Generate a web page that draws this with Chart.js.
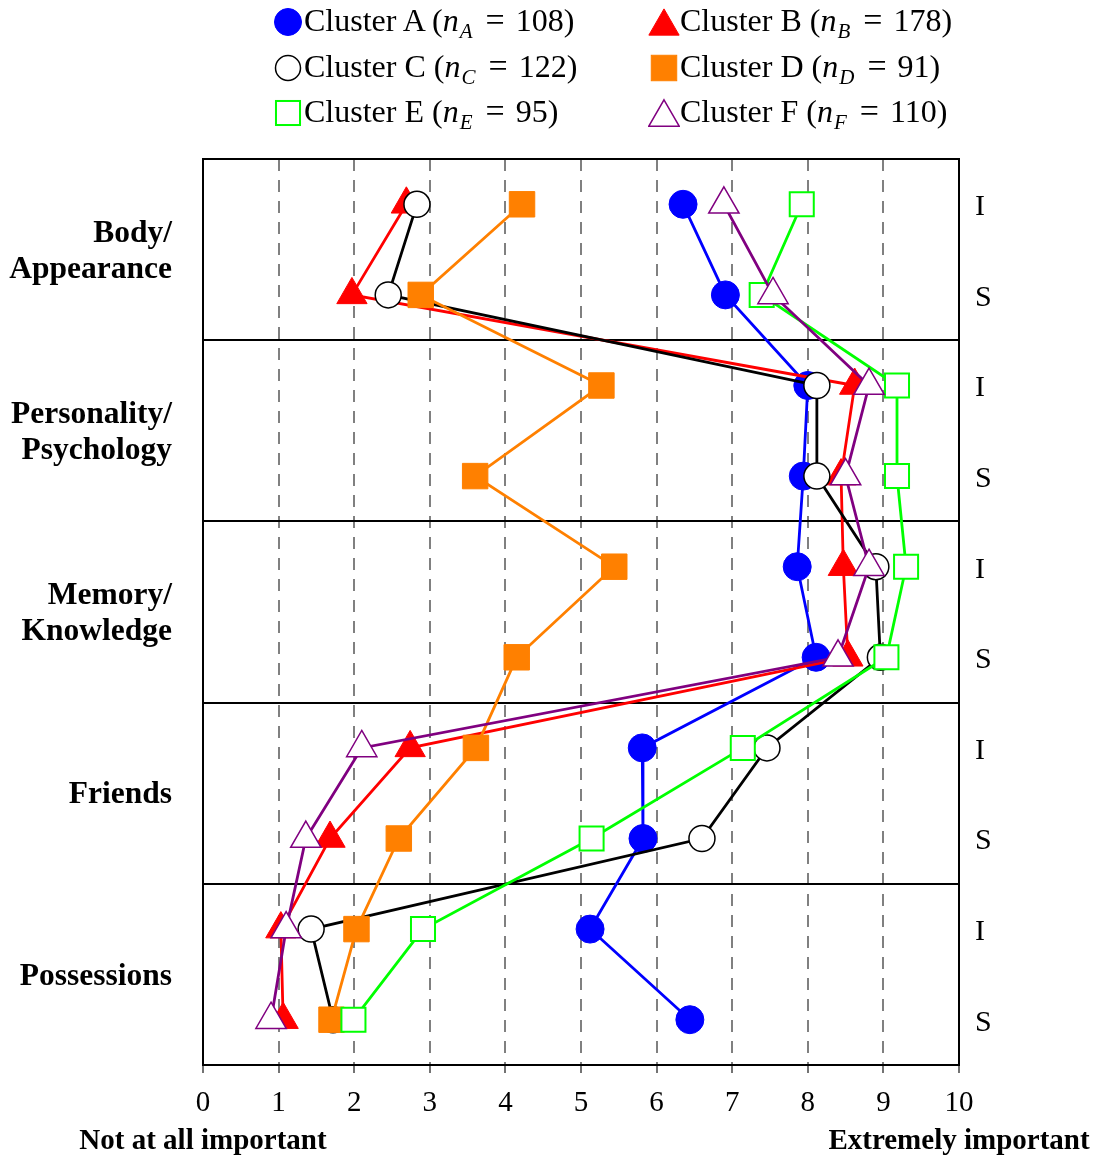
<!DOCTYPE html>
<html>
<head>
<meta charset="utf-8">
<script src="https://cdn.jsdelivr.net/npm/chart.js@4.4.0/dist/chart.umd.min.js"></script>
<style>
  body { margin: 0; background: #fff; }
  #wrap { position: relative; width: 1098px; height: 1160px; }
  #chart { position: absolute; left: 0; top: 0; }
  .leg { position: absolute; display: flex; align-items: center; height: 40px;
         font-family: "Liberation Serif", serif; font-size: 32px; color: #000; white-space: nowrap; }
  .leg svg { display: block; }
  .leg sub { font-size: 21px; vertical-align: -7px; margin-left: 1px; }
  .leg .eq { margin: 0 11px 0 13px; font-size: 34px; }
</style>
</head>
<body>
<div id="wrap">
  <canvas id="chart" width="1098" height="1160"></canvas>
  <div id="legend"></div>
</div>
<script>
// row labels (top to bottom) and group names
const rows = ['I', 'S', 'I', 'S', 'I', 'S', 'I', 'S', 'I', 'S'];
const groups = [['Body/', 'Appearance'], ['Personality/', 'Psychology'], ['Memory/', 'Knowledge'], 'Friends', 'Possessions'];
const xTicks = [0, 1, 2, 3, 4, 5, 6, 7, 8, 9, 10];

// mean importance per row, one array per cluster
const clusterA = [6.35, 6.91, 8.00, 7.94, 7.86, 8.11, 5.81, 5.82, 5.12, 6.44];
const clusterB = [2.69, 1.97, 8.62, 8.44, 8.47, 8.53, 2.74, 1.68, 1.03, 1.06];
const clusterC = [2.83, 2.45, 8.12, 8.12, 8.90, 8.96, 7.46, 6.60, 1.43, 1.72];
const clusterD = [4.22, 2.88, 5.27, 3.60, 5.44, 4.15, 3.61, 2.59, 2.03, 1.70];
const clusterE = [7.92, 7.39, 9.18, 9.18, 9.30, 9.04, 7.14, 5.14, 2.91, 1.99];
const clusterF = [6.89, 7.54, 8.81, 8.50, 8.81, 8.40, 2.10, 1.36, 1.10, 0.90];

const clusterNames = ['A', 'B', 'C', 'D', 'E', 'F'];
const clusterSizes = [108, 178, 122, 91, 95, 110];

const FONT = '"Liberation Serif", serif';

function toPoints(vals) {
    return vals.map((v, i) => ({ x: v, y: i }));
}

// style per cluster
const styles = [
    { line: '#0000ff', fill: '#0000ff', border: '#0000ff', shape: 'circle', r: 14, bw: 1 },
    { line: '#ff0000', fill: '#ff0000', border: '#ff0000', shape: 'triangle', r: 17.5, bw: 1 },
    { line: '#000000', fill: '#ffffff', border: '#000000', shape: 'circle', r: 13, bw: 1.5 },
    { line: '#ff8000', fill: '#ff8000', border: '#ff8000', shape: 'rect', r: 18, bw: 1 },
    { line: '#00ff00', fill: '#ffffff', border: '#00ff00', shape: 'rect', r: 17, bw: 2 },
    { line: '#800080', fill: '#ffffff', border: '#800080', shape: 'triangle', r: 17.5, bw: 1.5 }
];
const allData = [clusterA, clusterB, clusterC, clusterD, clusterE, clusterF];

const datasets = allData.map((vals, k) => ({
    label: 'Cluster ' + clusterNames[k],
    data: toPoints(vals),
    borderColor: styles[k].line,
    borderWidth: 2.8,
    pointStyle: styles[k].shape,
    pointRadius: styles[k].r,
    pointHoverRadius: styles[k].r,
    pointBackgroundColor: styles[k].fill,
    pointBorderColor: styles[k].border,
    pointBorderWidth: styles[k].bw,
    tension: 0,
    clip: false,
    order: 6 - k   // later clusters on top
}));

// separators, frame and the two end labels
const framePlugin = {
    id: 'frame',
    beforeDatasetsDraw(chart) {
        const ctx = chart.ctx;
        const a = chart.chartArea;
        const y = chart.scales.y;
        ctx.save();
        ctx.strokeStyle = '#000';
        ctx.lineWidth = 2;
        [1.5, 3.5, 5.5, 7.5].forEach(v => {
            const py = Math.round(y.getPixelForValue(v));
            ctx.beginPath();
            ctx.moveTo(a.left, py);
            ctx.lineTo(a.right, py);
            ctx.stroke();
        });
        ctx.strokeRect(a.left, a.top, a.right - a.left, a.bottom - a.top);
        ctx.restore();
    },
    afterDraw(chart) {
        const ctx = chart.ctx;
        const x = chart.scales.x;
        ctx.save();
        ctx.fillStyle = '#000';
        ctx.font = 'bold 29px ' + FONT;
        ctx.textAlign = 'center';
        ctx.textBaseline = 'middle';
        ctx.fillText('Not at all important', x.getPixelForValue(0), 1142);
        ctx.fillText('Extremely important', x.getPixelForValue(10), 1142);
        ctx.restore();
    }
};

const chart = new Chart(document.getElementById('chart'), {
    type: 'line',
    data: { datasets: datasets },
    options: {
        responsive: false,
        animation: false,
        layout: { padding: { top: 159, left: 0, right: 0, bottom: 0 } },
        plugins: { legend: { display: false }, tooltip: { enabled: false } },
        scales: {
            x: {
                type: 'linear',
                min: 0,
                max: 10,
                afterBuildTicks: s => { s.ticks = xTicks.map(v => ({ value: v })); },
                afterFit: s => { s.height = 95; },
                ticks: { color: '#000', font: { family: FONT, size: 29 }, padding: 13, autoSkip: false, maxRotation: 0 },
                grid: {
                    color: c => (c.tick && (c.tick.value === 0 || c.tick.value === 10)) ? 'rgba(0,0,0,0)' : '#808080',
                    lineWidth: 2,
                    drawTicks: true,
                    tickLength: 8,
                    tickColor: '#444',
                    tickWidth: 1.5,
                    tickBorderDash: []
                },
                border: { display: false, dash: [12, 9] }
            },
            y: {
                type: 'linear',
                position: 'left',
                reverse: true,
                min: -0.5,
                max: 9.5,
                afterBuildTicks: s => { s.ticks = [0.5, 2.5, 4.5, 6.5, 8.5].map(v => ({ value: v })); },
                afterFit: s => { s.width = 203; },
                ticks: {
                    color: '#000',
                    font: { family: FONT, size: 31.5, weight: 'bold', lineHeight: 1.15 },
                    padding: 31,
                    labelOffset: 2,
                    autoSkip: false,
                    callback: (v, i) => groups[i]
                },
                grid: { display: false, drawTicks: false },
                border: { display: false }
            },
            y2: {
                type: 'linear',
                position: 'right',
                reverse: true,
                min: -0.5,
                max: 9.5,
                afterBuildTicks: s => { s.ticks = rows.map((r, i) => ({ value: i })); },
                afterFit: s => { s.width = 139; },
                ticks: {
                    color: '#000',
                    font: { family: FONT, size: 30 },
                    padding: 16,
                    labelOffset: 3,
                    autoSkip: false,
                    callback: (v, i) => rows[i]
                },
                grid: { display: false, drawTicks: false },
                border: { display: false }
            }
        }
    },
    plugins: [framePlugin]
});

// HTML legend, two columns by three rows
function markerSvg(st) {
    const c = 16;
    let shape = '';
    if (st.shape === 'circle') {
        shape = '<circle cx="' + c + '" cy="' + c + '" r="' + (st.r - 0.5) + '" fill="' + st.fill + '" stroke="' + st.border + '" stroke-width="' + st.bw + '"/>';
    } else if (st.shape === 'rect') {
        const h = st.r * Math.SQRT1_2;
        shape = '<rect x="' + (c - h) + '" y="' + (c - h) + '" width="' + (2 * h) + '" height="' + (2 * h) + '" fill="' + st.fill + '" stroke="' + st.border + '" stroke-width="' + st.bw + '"/>';
    } else {
        const r = st.r;
        const cy = c + r / 4;
        const pts = [[c, cy - r], [c + r * 0.866, cy + r / 2], [c - r * 0.866, cy + r / 2]].map(p => p.join(',')).join(' ');
        shape = '<polygon points="' + pts + '" fill="' + st.fill + '" stroke="' + st.border + '" stroke-width="' + st.bw + '"/>';
    }
    return '<svg width="32" height="32" viewBox="0 0 32 32">' + shape + '</svg>';
}

const legendPos = [
    { x: 272, y: 22 }, { x: 648, y: 22 },
    { x: 272, y: 68 }, { x: 648, y: 68 },
    { x: 272, y: 113 }, { x: 648, y: 113 }
];
const legendEl = document.getElementById('legend');
clusterNames.forEach((n, k) => {
    const d = document.createElement('div');
    d.className = 'leg';
    d.style.left = legendPos[k].x + 'px';
    d.style.top = (legendPos[k].y - 20) + 'px';
    d.innerHTML = markerSvg(styles[k]) + '<span>Cluster ' + n + ' (<i>n</i><sub><i>' + n + '</i></sub><span class="eq">=</span>' + clusterSizes[k] + ')</span>';
    legendEl.appendChild(d);
});
</script>
</body>
</html>
